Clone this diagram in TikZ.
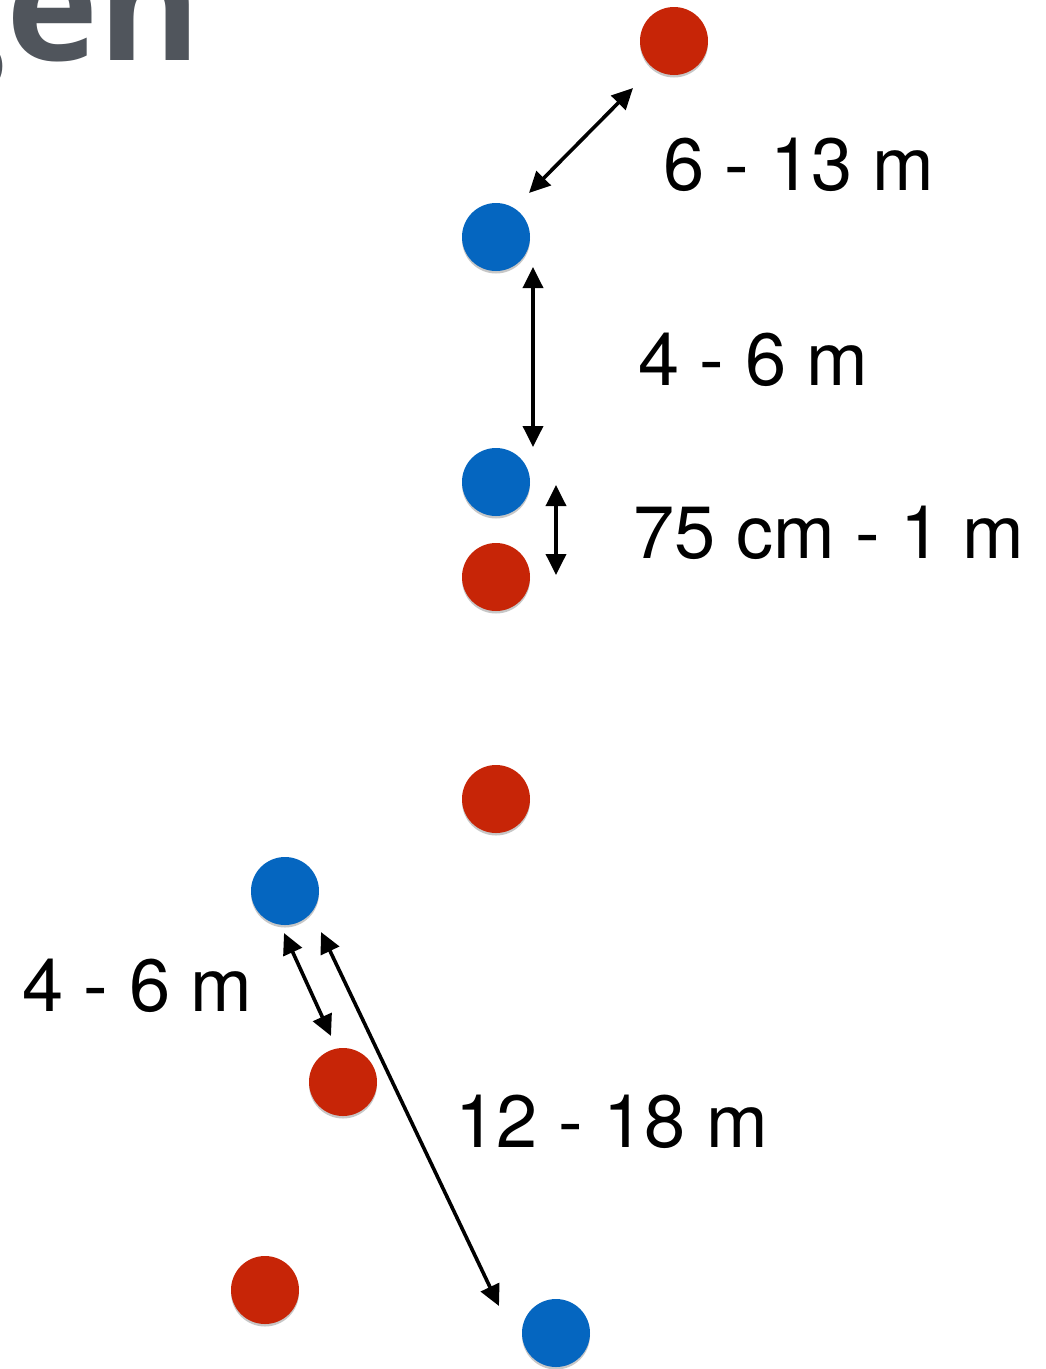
\documentclass[tikz,border=0pt]{standalone}
\usepackage{fontspec}
\newfontfamily\lightfont{TeX Gyre Heros}
\newfontfamily\boldfont{Open Sans}
\usetikzlibrary{arrows.meta,shadows}
\definecolor{dotred}{HTML}{C72507}
\definecolor{dotblue}{HTML}{0566C0}
\definecolor{titlegray}{HTML}{50555C}
\tikzset{
  dot/.style={circle, minimum size=68pt, inner sep=0pt, draw=none,
    drop shadow={shadow xshift=0pt, shadow yshift=-2.5pt, opacity=0.22, fill=black}},
  reddot/.style={dot, fill=dotred},
  bluedot/.style={dot, fill=dotblue},
  dimarrow/.style={line width=3.6pt, {Triangle[length=21pt,width=20pt]}-{Triangle[length=21pt,width=20pt]}},
  dimlabel/.style={anchor=base west, inner sep=0pt, font=\lightfont\fontsize{74}{80}\selectfont},
}
\begin{document}
\begin{tikzpicture}[x=1pt,y=-1pt]
\useasboundingbox (0,0) rectangle (1046,1369);
\clip (0,0) rectangle (1046,1369);
\fill[white] (0,0) rectangle (1046,1369);
% title fragment
\node[anchor=base east, inner sep=0pt, text=titlegray, font=\boldfont\bfseries\fontsize{156}{160}\selectfont] (title) at (201,60) {gen};
% dots
\node[reddot] (r1) at (674,41) {};
\node[bluedot] (b1) at (496,237) {};
\node[bluedot] (b2) at (496,482) {};
\node[reddot] (r2) at (496,577) {};
\node[reddot] (r3) at (496,799) {};
\node[bluedot] (b3) at (285,891) {};
\node[reddot] (r4) at (343,1082) {};
\node[reddot] (r5) at (265,1290) {};
\node[bluedot] (b4) at (556,1333) {};
% arrow end points
\coordinate (a1s) at (529,193); \coordinate (a1e) at (633,88);
\coordinate (a2s) at (533,267); \coordinate (a2e) at (533,447);
\coordinate (a3s) at (556,485); \coordinate (a3e) at (556,575);
\coordinate (a4s) at (284,933); \coordinate (a4e) at (331,1036);
\coordinate (a5s) at (321,932); \coordinate (a5e) at (499,1306);
\draw[dimarrow] (a1s) -- (a1e);
\draw[dimarrow] (a2s) -- (a2e);
\draw[dimarrow] (a3s) -- (a3e);
\draw[dimarrow] (a4s) -- (a4e);
\draw[dimarrow] (a5s) -- (a5e);
% labels
\node[dimlabel] (l1) at (663,190) {6 - 13 m};
\node[dimlabel] (l2) at (638,385) {4 - 6 m};
\node[dimlabel] (l3) at (633,558) {75 cm - 1 m};
\node[dimlabel] (l4) at (22,1011) {4 - 6 m};
\node[dimlabel] (l5) at (455,1147) {12 - 18 m};
\end{tikzpicture}
\end{document}
